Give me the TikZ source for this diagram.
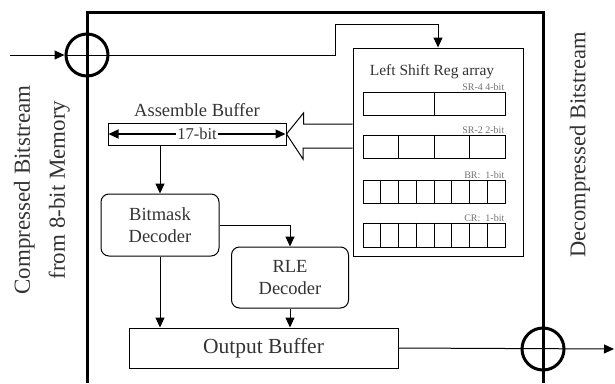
\documentclass[tikz,border=0pt]{standalone}
\usepackage{fontspec}
\setmainfont{Liberation Serif}
\usetikzlibrary{arrows.meta,positioning,shapes,calc}

\tikzset{
    unitbox/.style={rectangle, draw, line width=1pt, inner sep=0pt},
    decbox/.style={unitbox, rounded corners=8pt, align=center,
        font=\fontsize{18.5}{22}\selectfont},
    regrow/.style={unitbox, minimum width=142pt, minimum height=23pt},
    reglabel/.style={anchor=south east, inner sep=1pt, text=black!55,
        font=\fontsize{10}{12}\selectfont},
    sideline/.style={line width=3pt},
    xorcirc/.style={circle, draw, line width=3pt, minimum size=42pt, inner sep=0pt},
    flow/.style={line width=1pt, -{Triangle[length=10pt,width=9pt]}}
}

\begin{document}
\begin{tikzpicture}[x=1pt, y=-1pt, text=black!80]
    \useasboundingbox (0,0) rectangle (615,383);

    % chip frame, open at the bottom
    \draw[sideline] (87,383) -- (87,12) -- (543,12) -- (543,383);
    \node (in_circ) [xorcirc] at (87,55) {};
    \node (out_circ) [xorcirc] at (543,349) {};

    % register array
    \node (shift_regs) [unitbox, minimum width=170pt, minimum height=208pt] at (438,152) {};
    \node (shift_title) [font=\fontsize{15.5}{18}\selectfont] at (432,72) {Left Shift Reg array};
    \node (sr_four) [regrow] at (434,103.5) {};
    \node (sr_two) [regrow] at (434,146.5) {};
    \node (b_reg) [regrow] at (434,191.5) {};
    \node (c_reg) [regrow, minimum height=24pt] at (434,235) {};
    \node [reglabel] at (sr_four.north east) {SR-4 4-bit};
    \node [reglabel] at (sr_two.north east) {SR-2 2-bit};
    \node [reglabel] at (b_reg.north east) {BR:\ \ 1-bit};
    \node [reglabel] at (c_reg.north east) {CR:\ \ 1-bit};
    \draw[line width=1pt] (sr_four.north) -- (sr_four.south);
    \foreach \k in {1,2,3} {
        \draw[line width=1pt] ($(sr_two.north west)!\k/4!(sr_two.north east)$)
            -- ($(sr_two.south west)!\k/4!(sr_two.south east)$);
    }
    \foreach \row in {b_reg, c_reg} {
        \foreach \k in {1,...,7} {
            \draw[line width=1pt] ($(\row.north west)!\k/8!(\row.north east)$)
                -- ($(\row.south west)!\k/8!(\row.south east)$);
        }
    }

    % decoding path
    \node (asm_buf) [unitbox, minimum width=178pt, minimum height=22pt] at (197,134) {};
    \node (asm_title) [font=\fontsize{18.5}{22}\selectfont, above=2pt of asm_buf] {Assemble Buffer};
    \draw[line width=1.2pt, {Triangle[length=10pt,width=9pt]}-{Triangle[length=10pt,width=9pt]}]
        ([xshift=1pt]asm_buf.west) -- ([xshift=-1pt]asm_buf.east)
        node[midway, fill=white, inner sep=1pt, font=\fontsize{16.5}{18}\selectfont] {17-bit};
    \node (bitmask_dec) [decbox, minimum width=118pt, minimum height=62pt] at (160,225)
    {
        Bitmask\\Decoder
    };
    \node (rle_dec) [decbox, minimum width=117pt, minimum height=61pt] at (290,277.5)
    {
        RLE\\Decoder
    };
    \node (out_buf) [unitbox, minimum width=269pt, minimum height=40pt,
        font=\fontsize{21.5}{24}\selectfont] at (263.5,348) {Output Buffer};

    % hollow arrow from registers to the assemble buffer
    \draw[line width=1pt] (asm_buf.east) -- ++(17,-21) -- ++(0,11) -- (shift_regs.west |- 0,124)
        (shift_regs.west |- 0,148) -- (303,148) -- ++(0,11) -- (asm_buf.east);

    % connectors
    \coordinate (src) at (10,55);
    \coordinate (sink) at (614,349);
    \draw[flow] (src) -- (in_circ.west);
    \draw[flow] (in_circ.west) -- (335,55) -- (335,24) -| (shift_regs.north);
    \draw[flow] (asm_buf.south -| bitmask_dec.north) -- (bitmask_dec.north);
    \draw[flow] (bitmask_dec.east) -| (rle_dec.north);
    \draw[flow] (bitmask_dec.south) -- (bitmask_dec.south |- out_buf.north);
    \draw[flow] (rle_dec.south) -- (rle_dec.south |- out_buf.north);
    \draw[flow] (out_buf.east) -- (sink);

    % side captions
    \node (in_caption) [rotate=90, align=center, font=\fontsize{23}{35}\selectfont] at (42,190)
    {
        Compressed Bitstream\\from 8-bit Memory
    };
    \node (out_caption) [rotate=90, font=\fontsize{22.5}{26}\selectfont] at (580,145)
    {
        Decompressed Bitstream
    };
\end{tikzpicture}
\end{document}
